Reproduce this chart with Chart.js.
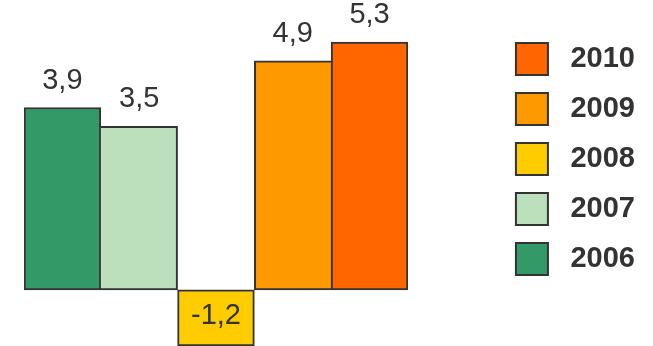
<!DOCTYPE html>
<html><head><meta charset="utf-8">
<script src="https://cdn.jsdelivr.net/npm/chart.js@4"></script>
<style>html,body{margin:0;padding:0;background:#fff}#wrap{width:653px;height:346px;position:relative}</style>
</head><body><div id="wrap"><canvas id="c"></canvas></div>
<script>
const categories = ['2006', '2007', '2008', '2009', '2010'];
const values = [3.9, 3.5, -1.2, 4.9, 5.3];
const colors = ['#339966', '#bbe0bb', '#ffcc00', '#ff9900', '#ff6600'];
const yMin = -1.2, yMax = 6.2;

const FONT = '"Liberation Sans", Arial, Helvetica, sans-serif';
const sgn = v => (v >= 0 ? 1 : -1);

function borderFor(ctx) {
  const i = ctx.dataIndex, n = values.length, v = values[i];
  let left = 2, right = 2;
  if (i > 0 && sgn(values[i - 1]) === sgn(v)) left = Math.abs(v) >= Math.abs(values[i - 1]) ? 2 : 0;
  if (i < n - 1 && sgn(values[i + 1]) === sgn(v)) right = Math.abs(v) > Math.abs(values[i + 1]) ? 2 : 0;
  return { top: 2, bottom: 2, left, right };
}

const valueLabels = {
  id: 'valueLabels',
  afterDatasetsDraw(chart) {
    const { ctx, chartArea } = chart;
    const meta = chart.getDatasetMeta(0);
    ctx.save();
    ctx.font = '29px ' + FONT;
    ctx.fillStyle = '#333';
    ctx.textAlign = 'center';
    ctx.textBaseline = 'middle';
    meta.data.forEach((bar, i) => {
      const v = values[i];
      const txt = v.toFixed(1).replace('.', ',');
      let y;
      if (v >= 0) y = bar.y - 27;
      else y = (bar.base + Math.min(bar.y, chartArea.bottom)) / 2 - 2;
      ctx.fillText(txt, bar.x, y);
    });
    ctx.restore();
  }
};

new Chart(document.getElementById('c'), {
  type: 'bar',
  data: {
    labels: categories,
    datasets: [{
      data: values,
      backgroundColor: colors,
      borderColor: '#333',
      borderWidth: borderFor,
      borderSkipped: false,
      barPercentage: 1,
      categoryPercentage: 1
    }]
  },
  options: {
    responsive: true,
    maintainAspectRatio: false,
    animation: false,
    layout: { padding: { left: 24, right: 8, top: 0, bottom: -2 } },
    scales: {
      x: { display: false },
      y: {
        position: 'right',
        min: yMin, max: yMax,
        grid: { display: false },
        border: { display: false },
        ticks: { display: false },
        afterFit(scale) { scale.width = 90; }
      }
    },
    plugins: {
      tooltip: { enabled: false },
      legend: {
        position: 'right',
        align: 'start',
        onClick() {},
        title: { display: true, text: ' ', font: { size: 10 }, padding: { top: 0, bottom: 13 } },
        labels: {
          boxWidth: 32,
          boxHeight: 32,
          padding: 18,
          color: '#333',
          font: { family: FONT, size: 29, weight: 'bold' },
          generateLabels() {
            return categories.map((c, i) => ({
              text: ' ' + c,
              fillStyle: colors[i],
              strokeStyle: '#333',
              fontColor: '#333',
              lineWidth: 2,
              hidden: false,
              datasetIndex: 0,
              index: i
            })).reverse();
          }
        }
      }
    }
  },
  plugins: [valueLabels]
});
</script>
</body></html>
